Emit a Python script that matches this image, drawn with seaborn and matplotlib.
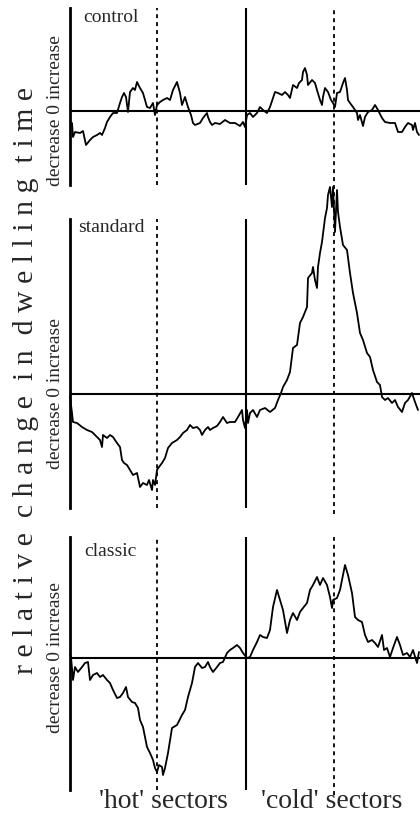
import matplotlib
matplotlib.use("Agg")
import matplotlib.pyplot as plt
import seaborn as sns

# position along the arena (0..350), hot centre 87, border 176, cold centre 264
control_x = [2, 3, 5, 10, 13, 16, 20, 23, 27, 30, 32, 35, 37, 40, 43, 47, 50, 52, 54, 56,
             58, 60, 63, 65, 67, 70, 73, 77, 80, 83, 85, 87, 90, 93, 97, 100, 103, 107, 110, 112,
             115, 118, 121, 123, 125, 130, 133, 137, 138, 140, 142, 145, 150, 155, 160, 165, 170, 173, 175, 177,
             180, 183, 187, 190, 193, 197, 200, 203, 205, 208, 212, 215, 218, 220, 223, 227, 229, 232, 233, 235,
             237, 238, 242, 245, 247, 250, 252, 253, 255, 258, 261, 263, 265, 267, 270, 273, 275, 277, 278, 280,
             283, 287, 288, 290, 293, 295, 298, 302, 305, 308, 312, 315, 320, 325, 328, 332, 335, 338, 342, 343,
             345, 347, 349]
control_y = [-12, -26, -21, -22, -20, -34, -29, -26, -24, -22, -24, -17, -11, -6, -2, -2, 8, 14, 18, 14,
             -1, 19, 23, 21, 29, 23, 18, 4, 3, 8, -4, 6, 9, 11, 13, 11, 21, 29, 18, 6,
             14, 4, -4, -12, -14, -12, -7, -2, -6, -11, -14, -12, -13, -9, -12, -12, -15, -11, -16, -4,
             -2, -6, -2, 4, 1, -2, 4, 13, 19, 18, 16, 19, 16, 13, 26, 23, 28, 31, 39, 43,
             36, 26, 31, 28, 21, 11, 6, 14, 23, 19, 11, 8, 4, 18, 19, 28, 33, 21, 11, 8,
             4, -2, -9, -4, -15, -6, -1, 1, 6, 1, -7, -11, -12, -12, -21, -21, -16, -12, -14, -19,
             -12, -21, -24]

standard_x = [0, 1, 2, 3, 7, 12, 17, 22, 27, 30, 32, 33, 37, 40, 43, 47, 50, 52, 54, 57,
              60, 63, 67, 70, 73, 77, 79, 82, 83, 85, 87, 89, 92, 95, 98, 102, 107, 110, 113, 117,
              120, 123, 127, 130, 132, 135, 138, 140, 143, 147, 150, 153, 157, 160, 165, 168, 172, 173, 175, 177,
              178, 180, 183, 187, 190, 195, 200, 205, 208, 211, 213, 217, 220, 223, 227, 230, 233, 237, 238, 242,
              243, 245, 247, 248, 250, 252, 255, 257, 258, 260, 262, 263, 265, 267, 268, 270, 273, 277, 280, 283,
              287, 290, 293, 297, 300, 303, 307, 310, 312, 315, 318, 322, 325, 328, 332, 335, 338, 342, 345, 348]
standard_y = [-2, -11, -19, -28, -29, -33, -36, -38, -43, -46, -53, -41, -44, -41, -43, -49, -53, -66, -69, -71,
              -76, -81, -79, -93, -89, -91, -86, -96, -86, -91, -76, -73, -69, -64, -54, -49, -46, -43, -39, -36,
              -31, -34, -33, -36, -41, -36, -33, -36, -34, -32, -28, -23, -29, -28, -28, -23, -16, -26, -34, -16,
              -29, -19, -16, -23, -16, -14, -18, -14, -6, 1, 7, 14, 22, 46, 49, 71, 77, 87, 116, 121,
              127, 114, 106, 127, 141, 152, 176, 186, 199, 207, 187, 207, 162, 204, 182, 167, 149, 144, 121, 101,
              81, 61, 54, 41, 37, 24, 12, 9, -3, -6, -4, -9, -6, -13, -18, -9, -6, 1, -8, -16]

classic_x = [0, 1, 3, 5, 8, 12, 15, 18, 20, 23, 27, 30, 33, 37, 40, 43, 47, 50, 53, 56,
             58, 62, 65, 68, 70, 73, 77, 80, 83, 85, 87, 89, 92, 93, 95, 98, 102, 107, 112, 115,
             118, 122, 125, 128, 132, 135, 138, 140, 143, 147, 150, 153, 157, 160, 163, 167, 170, 173, 177, 180,
             183, 187, 190, 193, 197, 200, 203, 207, 210, 213, 217, 220, 223, 227, 230, 233, 237, 240, 243, 247,
             250, 253, 257, 260, 262, 263, 267, 270, 273, 275, 278, 282, 285, 288, 292, 295, 298, 302, 305, 308,
             312, 314, 317, 320, 323, 327, 330, 333, 337, 340, 343, 347, 349]
classic_y = [3, 1, -22, -9, -14, -9, -5, -4, -22, -17, -15, -19, -17, -22, -25, -32, -40, -39, -35, -29,
             -39, -44, -45, -50, -62, -69, -89, -95, -102, -110, -114, -107, -109, -117, -110, -95, -70, -67, -57, -52,
             -39, -25, -9, -5, -10, -9, -4, -9, -14, -9, -5, -4, 5, 8, 10, 13, 10, 5, 0, 1,
             8, 16, 23, 21, 20, 28, 51, 68, 58, 48, 25, 38, 45, 38, 46, 50, 55, 68, 73, 81,
             73, 80, 73, 61, 50, 58, 60, 68, 83, 93, 83, 65, 41, 38, 36, 23, 16, 18, 15, 11,
             23, 8, 10, 1, 10, 21, 13, 3, 5, 1, 8, -5, 6]

panel_names = ["control", "standard", "classic"]
panel_x = [control_x, standard_x, classic_x]
panel_y = [control_y, standard_y, classic_y]
panel_ylim = [(-74, 103), (-114, 175), (-132, 121)]

hot_centre, border, cold_centre = 87, 176, 264

sns.set_theme(style="white")
plt.rcParams["font.family"] = ["Liberation Serif", "DejaVu Serif"]

fig = plt.figure(figsize=(4.2, 8.16), dpi=100)
boxes = [[70 / 420, 1 - 185 / 816, 350 / 420, 177 / 816],
         [70 / 420, 1 - 508 / 816, 350 / 420, 289 / 816],
         [70 / 420, 1 - 790 / 816, 350 / 420, 253 / 816]]
label_pos = [(13, 93), (8, 166), (14, 107)]

for i, name in enumerate(panel_names):
    ax = fig.add_axes(boxes[i])
    lo, hi = panel_ylim[i]
    ax.set_xlim(0, 350)
    ax.set_ylim(lo, hi)
    sns.lineplot(x=panel_x[i], y=panel_y[i], ax=ax, color="black", lw=1.3,
                 estimator=None, sort=False)
    for ln in ax.lines:
        ln.set_clip_on(False)
    ax.axhline(0, color="black", lw=1.5)
    ax.axvline(border, color="black", lw=1.5)
    top = 1.0
    if i == 1:
        top = (max(panel_y[i]) - lo) / (hi - lo)
    ax.axvline(hot_centre, color="black", lw=1.3, ls=(0, (2.2, 2.2)))
    ax.axvline(cold_centre, ymin=-0.02, ymax=top, color="black", lw=1.3,
               ls=(0, (2.2, 2.2)), clip_on=False)
    for s in ["top", "right", "bottom"]:
        ax.spines[s].set_visible(False)
    ax.spines["left"].set_color("black")
    ax.spines["left"].set_linewidth(2)
    ax.set_xticks([])
    ax.set_yticks([])
    ax.set_xlabel("")
    ax.set_ylabel("")
    ax.text(label_pos[i][0], label_pos[i][1], name, fontsize=14, va="center", ha="left")
    ax.text(-14, 0, "decrease 0 increase", fontsize=14, rotation=90,
            ha="center", va="center", clip_on=False)

fig.text(26 / 420, 1 - 381 / 816,
         "r e l a t i v e  c h a n g e  i n  d w e l l i n g  t i m e",
         fontsize=21.5, rotation=90, ha="center", va="center")
fig.text(163 / 420, 1 - 801 / 816, "'hot' sectors", fontsize=20, ha="center", va="center")
fig.text(332 / 420, 1 - 801 / 816, "'cold' sectors", fontsize=20, ha="center", va="center")

fig.savefig("out.png", dpi=100, facecolor="white")
